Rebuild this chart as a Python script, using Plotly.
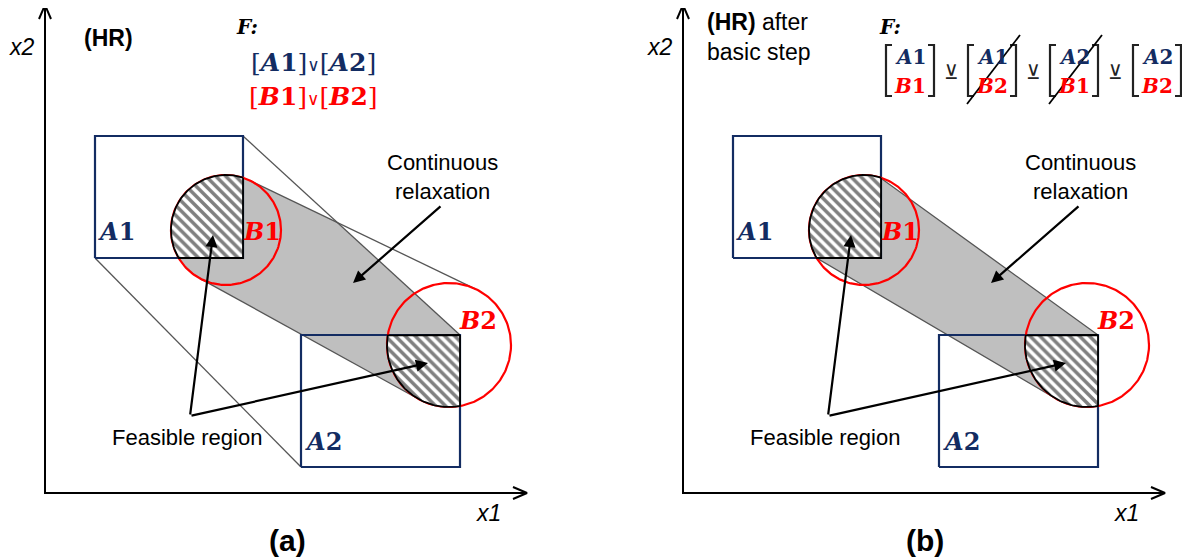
import numpy as np
import plotly.graph_objects as go

# sets of the two disjunctions (same in both panels), units = px/10 from the axes origin
box_names = ["A1", "A2"]
box_x0 = [5.0, 25.6]
box_x1 = [19.8, 41.5]
box_y0 = [23.5, 2.6]
box_y1 = [35.7, 15.8]
box_label_x = [7.1, 27.8]
box_label_y = [26.2, 5.2]

circle_names = ["B1", "B2"]
circle_cx = [18.1, 40.4]
circle_cy = [26.3, 14.8]
circle_r = [5.5, 6.2]
circle_label_x = [21.7, 43.3]
circle_label_y = [26.2, 17.3]

# panel (b) formula: columns of the disjunction after the basic step
mat_top = ["A1", "A1", "A2", "A2"]
mat_bot = ["B1", "B2", "B1", "B2"]
mat_x = [22.7, 30.9, 39.1, 47.4]
mat_struck = [False, True, True, False]

NAVY = "#132C62"
RED = "#FF0000"
GRAY = "#BFBFBF"
EDGE = "#555555"
SANS = "Liberation Sans"
SERIF = "DejaVu Serif"


def circle_pts(cx, cy, r, n=240):
    t = np.linspace(0, 2 * np.pi, n, endpoint=False)
    return np.column_stack([cx + r * np.cos(t), cy + r * np.sin(t)])


def rect_pts(i):
    return np.array([[box_x0[i], box_y0[i]], [box_x1[i], box_y0[i]],
                     [box_x1[i], box_y1[i]], [box_x0[i], box_y1[i]]])


def cross(o, a, b):
    return (a[0] - o[0]) * (b[1] - o[1]) - (a[1] - o[1]) * (b[0] - o[0])


def hull(pts):
    pts = sorted(map(tuple, pts))
    lower, upper = [], []
    for p in pts:
        while len(lower) >= 2 and cross(lower[-2], lower[-1], p) <= 0:
            lower.pop()
        lower.append(p)
    for p in reversed(pts):
        while len(upper) >= 2 and cross(upper[-2], upper[-1], p) <= 0:
            upper.pop()
        upper.append(p)
    return np.array(lower[:-1] + upper[:-1])


def clip(poly, conv):
    out = list(map(tuple, poly))
    for i in range(len(conv)):
        a, b = conv[i], conv[(i + 1) % len(conv)]
        inp, out = out, []
        for j in range(len(inp)):
            p, q = inp[j - 1], inp[j]
            dp, dq = cross(a, b, p), cross(a, b, q)
            if dq >= 0:
                if dp < 0:
                    t = dp / (dp - dq)
                    out.append((p[0] + t * (q[0] - p[0]), p[1] + t * (q[1] - p[1])))
                out.append(q)
            elif dp >= 0:
                t = dp / (dp - dq)
                out.append((p[0] + t * (q[0] - p[0]), p[1] + t * (q[1] - p[1])))
    return np.array(out)


def long_edges(poly, k=2):
    edges = [(poly[i - 1], poly[i]) for i in range(len(poly))]
    edges.sort(key=lambda e: -np.hypot(*(e[1] - e[0])))
    return edges[:k]


def closed(p):
    return np.vstack([p, p[:1]])


fig = go.Figure()

hatch = [clip(circle_pts(circle_cx[i], circle_cy[i], circle_r[i]), rect_pts(i)) for i in range(2)]
a_hull = hull(np.vstack([rect_pts(i) for i in range(2)]))
b_hull = hull(np.vstack([circle_pts(circle_cx[i], circle_cy[i], circle_r[i]) for i in range(2)]))

for k, sfx in enumerate(["", "2"]):
    xa, ya = "x" + sfx, "y" + sfx

    def line(pts, color, width, **kw):
        fig.add_trace(go.Scatter(x=pts[:, 0], y=pts[:, 1], mode="lines", xaxis=xa, yaxis=ya,
                                 line=dict(color=color, width=width), hoverinfo="skip", **kw))

    # continuous relaxation
    if k == 0:
        relax = clip(b_hull, a_hull)
        line(closed(relax), GRAY, 0, fill="toself", fillcolor=GRAY)
        for e in long_edges(a_hull) + long_edges(b_hull):
            line(np.array(e), EDGE, 1.3)
    else:
        relax = hull(np.vstack(hatch))
        line(closed(relax), EDGE, 1.3, fill="toself", fillcolor=GRAY)

    for i in range(2):
        line(closed(rect_pts(i)), NAVY, 2.2)
        line(closed(circle_pts(circle_cx[i], circle_cy[i], circle_r[i])), RED, 2.2)
    for h in hatch:
        line(closed(h), "black", 1.8, fill="toself",
             fillpattern=dict(shape="\\", fgcolor="black", bgcolor="white", size=7, solidity=0.5))

    # axes with open arrow heads
    line(np.array([[0, 48.8], [0, 0], [48.2, 0]]), "black", 2)
    line(np.array([[-0.6, 47.4], [0, 48.8], [0.6, 47.4]]), "black", 2)
    line(np.array([[46.8, 0.6], [48.2, 0], [46.8, -0.6]]), "black", 2)

    def txt(x, y, text, size, color="black", family=SANS, **kw):
        fig.add_annotation(x=x, y=y, xref=xa, yref=ya, text=text, showarrow=False,
                           font=dict(size=size, color=color, family=family), **kw)

    for i, n in enumerate(box_names):
        txt(box_label_x[i], box_label_y[i], f"<b><i>{n[0]}</i>{n[1]}</b>", 24, NAVY, SERIF)
    for i, n in enumerate(circle_names):
        txt(circle_label_x[i], circle_label_y[i], f"<b><i>{n[0]}</i>{n[1]}</b>", 24, RED, SERIF)

    txt(-2.3, 44.6, "<i>x2</i>", 23)
    txt(44.3, -2.0, "<i>x1</i>", 23)
    txt(24.2, -4.7, "<b>(a)</b>" if k == 0 else "<b>(b)</b>", 30)
    txt(39.7, 31.6, "Continuous<br>relaxation", 22)
    txt(14.2, 5.6, "Feasible region", 22)

    arrow = dict(xref=xa, yref=ya, axref=xa, ayref=ya, text="", showarrow=True,
                 arrowhead=2, arrowsize=1.1, arrowwidth=2.2, arrowcolor="black")
    fig.add_annotation(x=30.8, y=21.0, ax=39.7, ay=28.8, **arrow)
    fig.add_annotation(x=16.8, y=25.8, ax=14.5, ay=7.7, **arrow)
    fig.add_annotation(x=38.3, y=13.0, ax=14.5, ay=7.7, **arrow)

    if k == 0:
        txt(3.7, 45.5, "<b>(HR)</b>", 23, xanchor="left")
        txt(20.2, 46.6, "<b><i>F:</i></b>", 20, family=SERIF)
        txt(26.8, 43.1, "[<b><i>A</i>1</b>]<span style='font-size:17px'>∨</span>[<b><i>A</i>2</b>]",
            25, NAVY, SERIF)
        txt(26.8, 39.7, "[<b><i>B</i>1</b>]<span style='font-size:17px'>∨</span>[<b><i>B</i>2</b>]",
            25, RED, SERIF)
    else:
        txt(2.2, 45.6, "<b>(HR)</b> after<br>basic step", 23, xanchor="left", align="left")
        txt(20.7, 46.6, "<b><i>F:</i></b>", 20, family=SERIF)
        for j in range(4):
            cx = mat_x[j]
            txt(cx, 43.6, f"<b><i>{mat_top[j][0]}</i>{mat_top[j][1]}</b>", 20, NAVY, SERIF)
            txt(cx, 40.7, f"<b><i>{mat_bot[j][0]}</i>{mat_bot[j][1]}</b>", 20, RED, SERIF)
            line(np.array([[cx - 1.8, 44.8], [cx - 2.4, 44.8], [cx - 2.4, 39.7], [cx - 1.8, 39.7]]), "#222222", 2.2)
            line(np.array([[cx + 1.8, 44.8], [cx + 2.4, 44.8], [cx + 2.4, 39.7], [cx + 1.8, 39.7]]), "#222222", 2.2)
            if mat_struck[j]:
                line(np.array([[cx - 2.5, 38.9], [cx + 2.8, 45.8]]), "black", 1.8)
            if j < 3:
                txt((cx + mat_x[j + 1]) / 2, 42.1, "⊻", 20, "#222222", "DejaVu Sans")

# the page body keeps its default 8px margin, so the ranges are shifted to compensate
ax_common = dict(visible=False, fixedrange=True)
fig.update_layout(
    width=1190, height=560, margin=dict(l=0, r=0, t=0, b=0),
    paper_bgcolor="white", plot_bgcolor="white", showlegend=False, hovermode=False,
    xaxis=dict(domain=[0, 0.5], range=[-3.7, 55.8], **ax_common),
    yaxis=dict(domain=[0, 1], range=[-7.5, 48.5], **ax_common),
    xaxis2=dict(domain=[0.5, 1], range=[-8.0, 51.5], **ax_common),
    yaxis2=dict(domain=[0, 1], range=[-7.5, 48.5], anchor="x2", **ax_common),
)

fig.write_html("out.html")
